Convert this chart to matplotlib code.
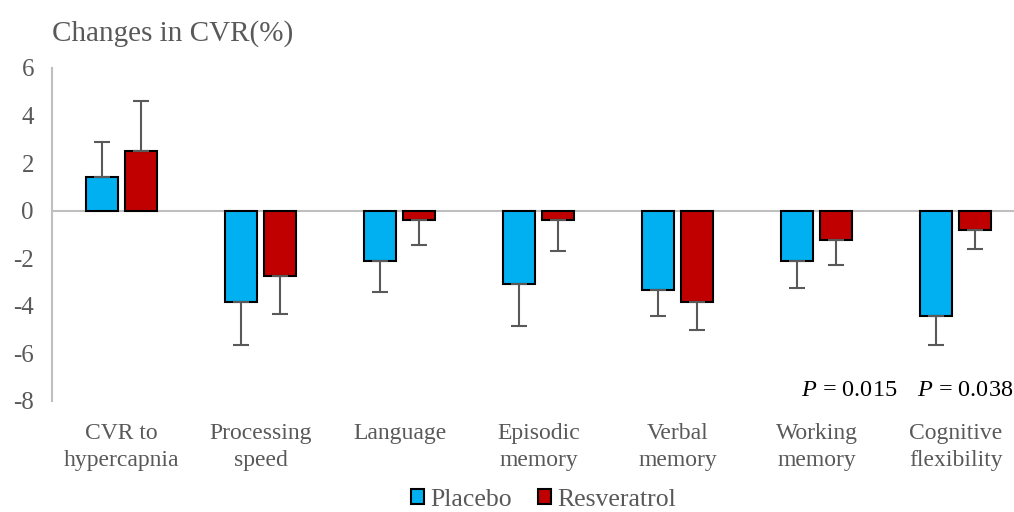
import matplotlib.pyplot as plt
import numpy as np

# Data
categories = ['CVR to\nhypercapnia', 'Processing\nspeed', 'Language', 'Episodic\nmemory',
              'Verbal\nmemory', 'Working\nmemory', 'Cognitive\nflexibility']
placebo = [1.43, -3.82, -2.1, -3.1, -3.32, -2.1, -4.41]
placebo_err = [1.47, 1.81, 1.3, 1.73, 1.09, 1.13, 1.22]
resveratrol = [2.52, -2.73, -0.38, -0.38, -3.82, -1.22, -0.8]
resveratrol_err = [2.1, 1.6, 1.05, 1.3, 1.18, 1.05, 0.8]
y_ticks = [-8, -6, -4, -2, 0, 2, 4, 6]
p_labels = ['', '', '', '', '', '$P$ = 0.015', '$P$ = 0.038']

plt.rcParams['font.family'] = ['Liberation Serif', 'DejaVu Serif']
plt.rcParams['mathtext.fontset'] = 'custom'
plt.rcParams['mathtext.it'] = 'Liberation Serif:italic'
plt.rcParams['mathtext.rm'] = 'Liberation Serif'

grey = '#595959'
fig = plt.figure(figsize=(10.14, 5.12), dpi=100)
ax = fig.add_axes([0.0513, 0.2168, 0.96, 0.6504])

x = np.arange(len(categories))
w = 0.23
off = 0.14


def one_sided(vals, errs):
    # error bars only drawn away from zero
    lo = [e if v < 0 else 0 for v, e in zip(vals, errs)]
    hi = [e if v >= 0 else 0 for v, e in zip(vals, errs)]
    return [lo, hi]


ax.bar(x - off, placebo, w, color='#00B0F0', edgecolor='black', linewidth=1.5,
       label='Placebo', zorder=2)
ax.bar(x + off, resveratrol, w, color='#C00000', edgecolor='black', linewidth=1.5,
       label='Resveratrol', zorder=2)
ax.errorbar(x - off, placebo, yerr=one_sided(placebo, placebo_err), fmt='none',
            ecolor=grey, elinewidth=1.5, capsize=6, capthick=1.5, zorder=3)
ax.errorbar(x + off, resveratrol, yerr=one_sided(resveratrol, resveratrol_err), fmt='none',
            ecolor=grey, elinewidth=1.5, capsize=6, capthick=1.5, zorder=3)

ax.axhline(0, color='#BFBFBF', linewidth=1.5, zorder=1)
ax.set_xlim(-0.5, 6.5)
ax.set_ylim(-8, 6)
ax.set_yticks(y_ticks)
ax.set_yticklabels([str(t) for t in y_ticks])
ax.set_xticks(x)
ax.set_xticklabels(categories, fontsize=17, color=grey, linespacing=1.35)
ax.tick_params(axis='x', length=0, pad=16)
ax.tick_params(axis='y', length=0, labelsize=18, colors=grey, pad=13)
for s in ['top', 'right', 'bottom']:
    ax.spines[s].set_visible(False)
ax.spines['left'].set_color('#BFBFBF')
ax.spines['left'].set_linewidth(1.5)

# p-value labels sit to the right of their group; the last one is squeezed by the edge
p_shift = [0, 0, 0, 0, 0, 0.23, 0.065]
for xi, lab, sh in zip(x, p_labels, p_shift):
    if lab:
        ax.text(xi + sh, -7.55, lab, ha='center', va='center', fontsize=17.5,
                color='black', clip_on=False)

fig.text(0.0513, 0.935, 'Changes in CVR(%)', fontsize=21, color=grey, va='center', ha='left')

fig.legend(loc='center', bbox_to_anchor=(0.536, 0.024), ncol=2, frameon=False,
           fontsize=18.5, labelcolor=grey, handlelength=0.5, handleheight=0.5,
           handletextpad=0.25, columnspacing=1.0)

fig.savefig('out.png', dpi=100)
